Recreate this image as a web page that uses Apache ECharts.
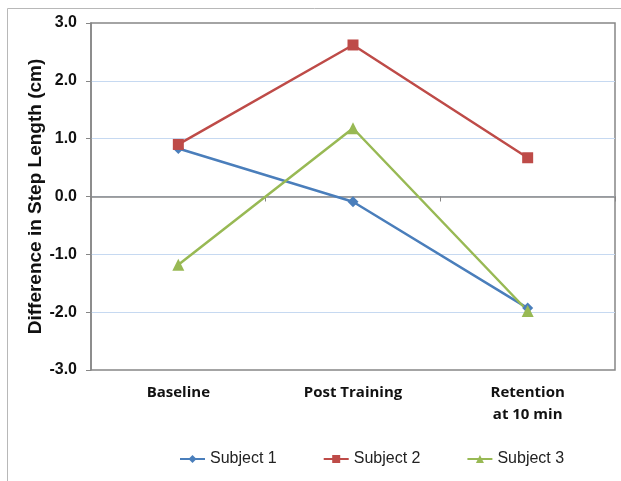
<!DOCTYPE html>
<html>
<head>
<meta charset="utf-8" />
<title>Step Length</title>
<script src="https://cdn.jsdelivr.net/npm/echarts@6/dist/echarts.min.js"></script>
<style>
	html,body{margin:0;padding:0;background:#fff;}
	#chart{width:621px;height:481px;}
</style>
</head>
<body>
<div id="chart"></div>
<script>
// 数据
var categories = ['Baseline', 'Post Training', 'Retention\nat 10 min'];
var subject1 = [0.83, -0.09, -1.93];
var subject2 = [0.90, 2.62, 0.67];
var subject3 = [-1.18, 1.18, -1.98];
var seriesNames = ['Subject 1', 'Subject 2', 'Subject 3'];

var colors = ['#4a7ebb', '#be4b48', '#98b954'];
var frameColor = '#868686';

var myChart = echarts.init(document.getElementById('chart'));
var option = {
	animation: false,
	color: colors,
	graphic: [
		{
			type: 'rect',
			shape: {x: 7.5, y: 8.5, width: 640, height: 500},
			style: {fill: 'none', stroke: '#b8b8b8', lineWidth: 1},
			silent: true
		}
	],
	grid: {
		left: 91, top: 23, right: 6, bottom: 111,
		show: true,
		borderColor: frameColor,
		borderWidth: 1.5
	},
	legend: {
		bottom: 9,
		left: 174,
		itemWidth: 25,
		itemHeight: 10,
		itemGap: 46,
		textStyle: {fontFamily: 'Liberation Sans', fontSize: 16, color: '#222'},
		data: seriesNames
	},
	xAxis: [
		{
			type: 'category',
			data: categories,
			axisLine: {onZero: true, lineStyle: {color: frameColor, width: 1.5}},
			axisTick: {show: true, length: 5, lineStyle: {color: frameColor}},
			axisLabel: {show: false},
			splitLine: {show: false}
		},
		{
			type: 'category',
			position: 'bottom',
			data: categories,
			axisLine: {show: false},
			axisTick: {show: false},
			axisLabel: {
				margin: 12,
				fontFamily: 'Open Sans',
				fontWeight: 'bold',
				fontSize: 15,
				lineHeight: 22,
				color: '#111'
			}
		}
	],
	yAxis: {
		type: 'value',
		min: -3,
		max: 3,
		interval: 1,
		name: 'Difference in Step Length (cm)',
		nameLocation: 'middle',
		nameGap: 46,
		nameMoveOverlap: false,
		nameTextStyle: {fontFamily: 'Liberation Sans', fontWeight: 'bold', fontSize: 19, color: '#111'},
		axisLine: {show: true, lineStyle: {color: frameColor, width: 1.5}},
		axisTick: {show: true, length: 5, lineStyle: {color: frameColor}},
		axisLabel: {
			margin: 14,
			fontFamily: 'Liberation Sans',
			fontWeight: 'bold',
			fontSize: 16,
			color: '#111',
			formatter: function(v){ return v.toFixed(1); }
		},
		splitLine: {show: true, showMinLine: false, showMaxLine: false, lineStyle: {color: '#c6d9f1', width: 1}}
	},
	series: [
		{name: seriesNames[0], type: 'line', data: subject1, symbol: 'diamond', symbolSize: 11, lineStyle: {width: 2.5}},
		{name: seriesNames[1], type: 'line', data: subject2, symbol: 'rect', symbolSize: 11, lineStyle: {width: 2.5}},
		{name: seriesNames[2], type: 'line', data: subject3, symbol: 'triangle', symbolSize: 12, lineStyle: {width: 2.5}}
	]
};
myChart.setOption(option);
</script>
</body>
</html>
